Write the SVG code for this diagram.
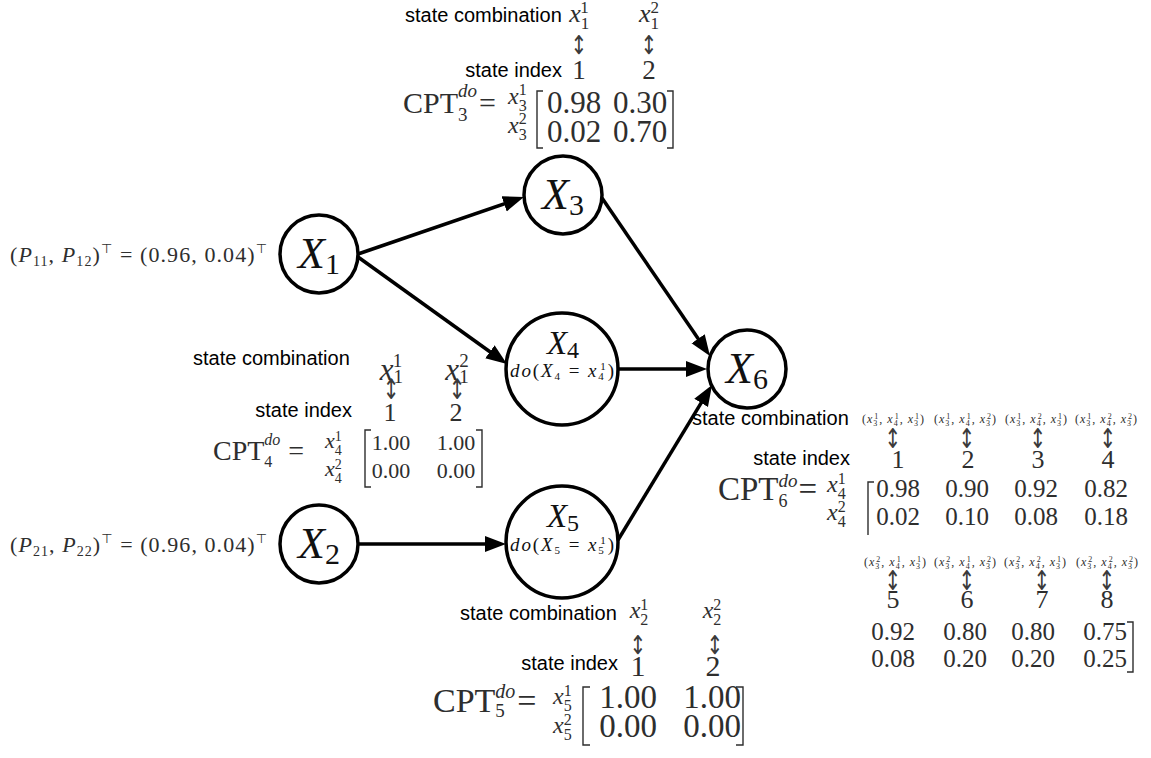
<svg xmlns="http://www.w3.org/2000/svg" width="1151" height="758" viewBox="0 0 1151 758">
<defs>
<style>
.lab{font-family:"Liberation Sans",Arial,sans-serif;font-size:20px;fill:#000}
.m{font-family:"Liberation Serif","Times New Roman",serif;fill:#2e2e2e}
.i{font-style:italic}
.c{text-anchor:middle}
.e{text-anchor:end}
.ud{font-family:"DejaVu Sans",sans-serif;font-size:20px;fill:#3a3a3a;text-anchor:middle}
.node circle{fill:#fff;stroke:#000;stroke-width:3.5}
.nl{font-family:"Liberation Serif","Times New Roman",serif;fill:#111;text-anchor:middle}
.edge{stroke:#000;stroke-width:3.5;fill:none;marker-end:url(#ah)}
.br{stroke:#2e2e2e;stroke-width:1.4;fill:none}
</style>
<marker id="ah" markerUnits="userSpaceOnUse" markerWidth="22" markerHeight="18" refX="15" refY="8" orient="auto">
<path d="M0,0 L21,8 L0,16 z" fill="#000"/>
</marker>
</defs>
<rect width="1151" height="758" fill="#fff"/>

<g id="connectors">
<line class="edge" x1="358" y1="254" x2="518.3" y2="199"/>
<line class="edge" x1="358" y1="257" x2="502.1" y2="360.5"/>
<line class="edge" x1="602" y1="198" x2="706.6" y2="351.1"/>
<line class="edge" x1="618" y1="369" x2="701" y2="369"/>
<line class="edge" x1="618" y1="540" x2="708.9" y2="390.1"/>
<line class="edge" x1="358" y1="544" x2="500" y2="544"/>
</g>

<g id="X1" class="node">
<circle cx="319" cy="254" r="39"/>
<text class="nl" x="319" y="268"><tspan class="i" font-size="44">X</tspan><tspan font-size="30" dy="6">1</tspan></text>
</g>
<g id="X2" class="node">
<circle cx="319" cy="544" r="39"/>
<text class="nl" x="319" y="558"><tspan class="i" font-size="44">X</tspan><tspan font-size="30" dy="6">2</tspan></text>
</g>
<g id="X3" class="node">
<circle cx="563" cy="195" r="39"/>
<text class="nl" x="563" y="209"><tspan class="i" font-size="44">X</tspan><tspan font-size="30" dy="6">3</tspan></text>
</g>
<g id="X4" class="node">
<circle cx="562" cy="369" r="56"/>
<text class="nl" x="563" y="354"><tspan class="i" font-size="33">X</tspan><tspan font-size="24" dy="4">4</tspan></text>
<text class="nl" x="562" y="377" font-size="19" textLength="104" lengthAdjust="spacing"><tspan class="i">do</tspan>(<tspan class="i">X</tspan><tspan font-size="11" dy="3">4</tspan><tspan dy="-3"> = </tspan><tspan class="i">x</tspan><tspan font-size="11" dy="3">4</tspan><tspan font-size="11" dx="-5.5" dy="-10">1</tspan><tspan dy="7">)</tspan></text>
</g>
<g id="X5" class="node">
<circle cx="562" cy="542" r="56"/>
<text class="nl" x="563" y="527"><tspan class="i" font-size="33">X</tspan><tspan font-size="24" dy="4">5</tspan></text>
<text class="nl" x="562" y="551" font-size="19" textLength="104" lengthAdjust="spacing"><tspan class="i">do</tspan>(<tspan class="i">X</tspan><tspan font-size="11" dy="3">5</tspan><tspan dy="-3"> = </tspan><tspan class="i">x</tspan><tspan font-size="11" dy="3">5</tspan><tspan font-size="11" dx="-5.5" dy="-10">1</tspan><tspan dy="7">)</tspan></text>
</g>
<g id="X6" class="node">
<circle cx="747" cy="369" r="39"/>
<text class="nl" x="747" y="383"><tspan class="i" font-size="44">X</tspan><tspan font-size="30" dy="6">6</tspan></text>
</g>

<g id="prior1">
<text class="m" x="10" y="262" font-size="22" textLength="257" lengthAdjust="spacing">(<tspan class="i">P</tspan><tspan font-size="14" dy="4">11</tspan><tspan dy="-4">, </tspan><tspan class="i">P</tspan><tspan font-size="14" dy="4">12</tspan><tspan dy="-4">)</tspan><tspan font-size="13" dy="-9" font-family="DejaVu Sans">⊤</tspan><tspan dy="9"> = (0.96, 0.04)</tspan><tspan font-size="13" dy="-9" font-family="DejaVu Sans">⊤</tspan></text>
</g>
<g id="prior2">
<text class="m" x="10" y="552" font-size="22" textLength="257" lengthAdjust="spacing">(<tspan class="i">P</tspan><tspan font-size="14" dy="4">21</tspan><tspan dy="-4">, </tspan><tspan class="i">P</tspan><tspan font-size="14" dy="4">22</tspan><tspan dy="-4">)</tspan><tspan font-size="13" dy="-9" font-family="DejaVu Sans">⊤</tspan><tspan dy="9"> = (0.96, 0.04)</tspan><tspan font-size="13" dy="-9" font-family="DejaVu Sans">⊤</tspan></text>
</g>

<g id="cpt3">
<text class="lab" x="405" y="22">state combination</text>
<text class="m c" font-size="17"><tspan x="579" y="22"><tspan class="i" font-size="26">x</tspan><tspan dy="7">1</tspan><tspan dx="-8.5" dy="-16">1</tspan></tspan></text>
<text class="m c" font-size="17"><tspan x="649" y="22"><tspan class="i" font-size="26">x</tspan><tspan dy="7">1</tspan><tspan dx="-8.5" dy="-16">2</tspan></tspan></text>
<text class="ud" transform="translate(579,54) scale(1,1.3)">↕</text>
<text class="ud" transform="translate(649,54) scale(1,1.3)">↕</text>
<text class="lab e" x="562" y="77">state index</text>
<text class="m c" font-size="27"><tspan x="579" y="79">1</tspan><tspan x="649" y="79">2</tspan></text>
<text class="m" x="403" y="113" font-size="30">CPT<tspan font-size="19" dy="8">3</tspan><tspan class="i" font-size="19" dx="-9.5" dy="-24">do</tspan><tspan dx="2" dy="16">=</tspan></text>
<text class="m" font-size="16"><tspan x="508" y="104"><tspan class="i" font-size="24">x</tspan><tspan dy="7">3</tspan><tspan dx="-8" dy="-16">1</tspan></tspan><tspan x="508" y="133"><tspan class="i" font-size="24">x</tspan><tspan dy="7">3</tspan><tspan dx="-8" dy="-16">2</tspan></tspan></text>
<path class="br" d="M543,91 H537 V148 H543 M667,91 H673 V148 H667"/>
<text class="m c" font-size="31"><tspan x="574" y="113">0.98</tspan><tspan x="640" y="113">0.30</tspan><tspan x="574" y="142">0.02</tspan><tspan x="640" y="142">0.70</tspan></text>
</g>

<g id="cpt4">
<text class="lab" x="193" y="365">state combination</text>
<text class="m c" font-size="19"><tspan x="391" y="380"><tspan class="i" font-size="31">x</tspan><tspan dy="3">1</tspan><tspan dx="-9.5" dy="-16">1</tspan></tspan></text>
<text class="m c" font-size="19"><tspan x="457" y="380"><tspan class="i" font-size="31">x</tspan><tspan dy="3">1</tspan><tspan dx="-9.5" dy="-16">2</tspan></tspan></text>
<text class="ud" transform="translate(391,399) scale(1,1.4)">↕</text>
<text class="ud" transform="translate(457,399) scale(1,1.4)">↕</text>
<text class="lab e" x="352" y="417">state index</text>
<text class="m c" font-size="26"><tspan x="390" y="421">1</tspan><tspan x="456" y="421">2</tspan></text>
<text class="m" x="213" y="460" font-size="28">CPT<tspan font-size="16" dy="7">4</tspan><tspan class="i" font-size="16" dx="-8" dy="-22">do</tspan><tspan dx="8" dy="15">=</tspan></text>
<text class="m" font-size="14"><tspan x="325" y="448"><tspan class="i" font-size="22">x</tspan><tspan dy="7">4</tspan><tspan dx="-7" dy="-14">1</tspan></tspan><tspan x="325" y="476"><tspan class="i" font-size="22">x</tspan><tspan dy="7">4</tspan><tspan dx="-7" dy="-14">2</tspan></tspan></text>
<path class="br" d="M371,430 H365 V487 H371 M476,430 H482 V487 H476"/>
<text class="m c" font-size="22"><tspan x="391" y="450">1.00</tspan><tspan x="456" y="450">1.00</tspan><tspan x="391" y="478">0.00</tspan><tspan x="456" y="478">0.00</tspan></text>
</g>

<g id="cpt5">
<text class="lab" x="460" y="620">state combination</text>
<text class="m c" font-size="16"><tspan x="639" y="618"><tspan class="i" font-size="24">x</tspan><tspan dy="7">2</tspan><tspan dx="-8" dy="-15">1</tspan></tspan></text>
<text class="m c" font-size="16"><tspan x="712" y="618"><tspan class="i" font-size="24">x</tspan><tspan dy="7">2</tspan><tspan dx="-8" dy="-15">2</tspan></tspan></text>
<text class="ud" transform="translate(638,654) scale(1,1.3)">↕</text>
<text class="ud" transform="translate(715,654) scale(1,1.3)">↕</text>
<text class="lab e" x="618" y="670">state index</text>
<text class="m c" font-size="30"><tspan x="638" y="676">1</tspan><tspan x="713" y="676">2</tspan></text>
<text class="m" x="433" y="712" font-size="34">CPT<tspan font-size="19" dy="5">5</tspan><tspan class="i" font-size="20" dx="-9.5" dy="-19">do</tspan><tspan dx="2" dy="14">=</tspan></text>
<text class="m" font-size="16"><tspan x="553" y="704"><tspan class="i" font-size="24">x</tspan><tspan dy="7">5</tspan><tspan dx="-8" dy="-15">1</tspan></tspan><tspan x="553" y="733"><tspan class="i" font-size="24">x</tspan><tspan dy="7">5</tspan><tspan dx="-8" dy="-15">2</tspan></tspan></text>
<path class="br" d="M590,687 H583 V745 H590 M736,687 H743 V745 H736"/>
<text class="m c" font-size="33"><tspan x="628" y="708">1.00</tspan><tspan x="712" y="708">1.00</tspan><tspan x="628" y="737">0.00</tspan><tspan x="712" y="737">0.00</tspan></text>
</g>

<g id="cpt6">
<text class="lab" x="692" y="425">state combination</text>
<g font-size="12">
<text class="m c" x="893" y="423" textLength="62" lengthAdjust="spacing">(<tspan class="i">x</tspan><tspan font-size="8" dy="2.5">3</tspan><tspan font-size="8" dx="-4" dy="-6.5">1</tspan><tspan dy="4">, </tspan><tspan class="i">x</tspan><tspan font-size="8" dy="2.5">4</tspan><tspan font-size="8" dx="-4" dy="-6.5">1</tspan><tspan dy="4">, </tspan><tspan class="i">x</tspan><tspan font-size="8" dy="2.5">3</tspan><tspan font-size="8" dx="-4" dy="-6.5">1</tspan><tspan dy="4">)</tspan></text>
<text class="m c" x="965" y="423" textLength="62" lengthAdjust="spacing">(<tspan class="i">x</tspan><tspan font-size="8" dy="2.5">3</tspan><tspan font-size="8" dx="-4" dy="-6.5">1</tspan><tspan dy="4">, </tspan><tspan class="i">x</tspan><tspan font-size="8" dy="2.5">4</tspan><tspan font-size="8" dx="-4" dy="-6.5">1</tspan><tspan dy="4">, </tspan><tspan class="i">x</tspan><tspan font-size="8" dy="2.5">3</tspan><tspan font-size="8" dx="-4" dy="-6.5">2</tspan><tspan dy="4">)</tspan></text>
<text class="m c" x="1036" y="423" textLength="62" lengthAdjust="spacing">(<tspan class="i">x</tspan><tspan font-size="8" dy="2.5">3</tspan><tspan font-size="8" dx="-4" dy="-6.5">1</tspan><tspan dy="4">, </tspan><tspan class="i">x</tspan><tspan font-size="8" dy="2.5">4</tspan><tspan font-size="8" dx="-4" dy="-6.5">2</tspan><tspan dy="4">, </tspan><tspan class="i">x</tspan><tspan font-size="8" dy="2.5">3</tspan><tspan font-size="8" dx="-4" dy="-6.5">1</tspan><tspan dy="4">)</tspan></text>
<text class="m c" x="1106" y="423" textLength="62" lengthAdjust="spacing">(<tspan class="i">x</tspan><tspan font-size="8" dy="2.5">3</tspan><tspan font-size="8" dx="-4" dy="-6.5">1</tspan><tspan dy="4">, </tspan><tspan class="i">x</tspan><tspan font-size="8" dy="2.5">4</tspan><tspan font-size="8" dx="-4" dy="-6.5">2</tspan><tspan dy="4">, </tspan><tspan class="i">x</tspan><tspan font-size="8" dy="2.5">3</tspan><tspan font-size="8" dx="-4" dy="-6.5">2</tspan><tspan dy="4">)</tspan></text>
<text class="m c" x="895" y="566" textLength="62" lengthAdjust="spacing">(<tspan class="i">x</tspan><tspan font-size="8" dy="2.5">3</tspan><tspan font-size="8" dx="-4" dy="-6.5">2</tspan><tspan dy="4">, </tspan><tspan class="i">x</tspan><tspan font-size="8" dy="2.5">4</tspan><tspan font-size="8" dx="-4" dy="-6.5">1</tspan><tspan dy="4">, </tspan><tspan class="i">x</tspan><tspan font-size="8" dy="2.5">3</tspan><tspan font-size="8" dx="-4" dy="-6.5">1</tspan><tspan dy="4">)</tspan></text>
<text class="m c" x="965" y="566" textLength="62" lengthAdjust="spacing">(<tspan class="i">x</tspan><tspan font-size="8" dy="2.5">3</tspan><tspan font-size="8" dx="-4" dy="-6.5">2</tspan><tspan dy="4">, </tspan><tspan class="i">x</tspan><tspan font-size="8" dy="2.5">4</tspan><tspan font-size="8" dx="-4" dy="-6.5">1</tspan><tspan dy="4">, </tspan><tspan class="i">x</tspan><tspan font-size="8" dy="2.5">3</tspan><tspan font-size="8" dx="-4" dy="-6.5">2</tspan><tspan dy="4">)</tspan></text>
<text class="m c" x="1035" y="566" textLength="62" lengthAdjust="spacing">(<tspan class="i">x</tspan><tspan font-size="8" dy="2.5">3</tspan><tspan font-size="8" dx="-4" dy="-6.5">2</tspan><tspan dy="4">, </tspan><tspan class="i">x</tspan><tspan font-size="8" dy="2.5">4</tspan><tspan font-size="8" dx="-4" dy="-6.5">2</tspan><tspan dy="4">, </tspan><tspan class="i">x</tspan><tspan font-size="8" dy="2.5">3</tspan><tspan font-size="8" dx="-4" dy="-6.5">1</tspan><tspan dy="4">)</tspan></text>
<text class="m c" x="1107" y="566" textLength="62" lengthAdjust="spacing">(<tspan class="i">x</tspan><tspan font-size="8" dy="2.5">3</tspan><tspan font-size="8" dx="-4" dy="-6.5">2</tspan><tspan dy="4">, </tspan><tspan class="i">x</tspan><tspan font-size="8" dy="2.5">4</tspan><tspan font-size="8" dx="-4" dy="-6.5">2</tspan><tspan dy="4">, </tspan><tspan class="i">x</tspan><tspan font-size="8" dy="2.5">3</tspan><tspan font-size="8" dx="-4" dy="-6.5">2</tspan><tspan dy="4">)</tspan></text>
</g>
<text class="ud" transform="translate(893,448) scale(1,1.35)">↕</text>
<text class="ud" transform="translate(967,448) scale(1,1.35)">↕</text>
<text class="ud" transform="translate(1038,448) scale(1,1.35)">↕</text>
<text class="ud" transform="translate(1108,448) scale(1,1.35)">↕</text>
<text class="lab e" x="850" y="465">state index</text>
<text class="m c" font-size="26"><tspan x="898" y="468">1</tspan><tspan x="968" y="468">2</tspan><tspan x="1038" y="468">3</tspan><tspan x="1108" y="468">4</tspan></text>
<text class="m" x="718" y="500" font-size="33">CPT<tspan font-size="18" dy="7">6</tspan><tspan class="i" font-size="19" dx="-9" dy="-20">do</tspan><tspan dx="1" dy="13">=</tspan></text>
<text class="m" font-size="16"><tspan x="827" y="492"><tspan class="i" font-size="24">x</tspan><tspan dy="7">4</tspan><tspan dx="-8" dy="-15">1</tspan></tspan><tspan x="827" y="520"><tspan class="i" font-size="24">x</tspan><tspan dy="7">4</tspan><tspan dx="-8" dy="-15">2</tspan></tspan></text>
<path class="br" d="M874,482 H868 V535"/>
<text class="m c" font-size="25"><tspan x="898" y="497">0.98</tspan><tspan x="967" y="497">0.90</tspan><tspan x="1036" y="497">0.92</tspan><tspan x="1106" y="497">0.82</tspan><tspan x="898" y="525">0.02</tspan><tspan x="967" y="525">0.10</tspan><tspan x="1036" y="525">0.08</tspan><tspan x="1106" y="525">0.18</tspan></text>
<text class="ud" transform="translate(893,590) scale(1,1.35)">↕</text>
<text class="ud" transform="translate(967,590) scale(1,1.35)">↕</text>
<text class="ud" transform="translate(1042,590) scale(1,1.35)">↕</text>
<text class="ud" transform="translate(1107,590) scale(1,1.35)">↕</text>
<text class="m c" font-size="26"><tspan x="893" y="608">5</tspan><tspan x="967" y="608">6</tspan><tspan x="1042" y="608">7</tspan><tspan x="1107" y="608">8</tspan></text>
<text class="m c" font-size="25"><tspan x="893" y="640">0.92</tspan><tspan x="965" y="640">0.80</tspan><tspan x="1033" y="640">0.80</tspan><tspan x="1105" y="640">0.75</tspan><tspan x="893" y="667">0.08</tspan><tspan x="965" y="667">0.20</tspan><tspan x="1033" y="667">0.20</tspan><tspan x="1105" y="667">0.25</tspan></text>
<path class="br" d="M1127,622 H1133 V672 H1127"/>
</g>
</svg>
